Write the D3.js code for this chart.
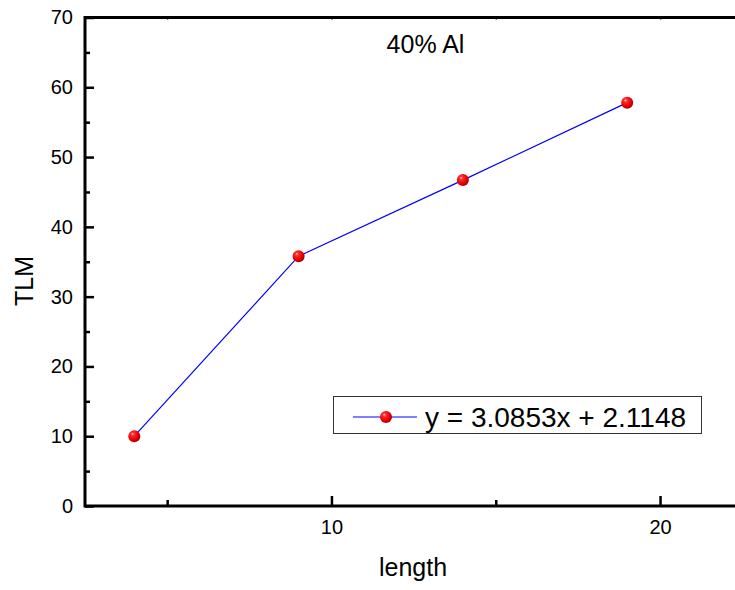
<!DOCTYPE html>
<html>
<head>
<meta charset="utf-8">
<script src="https://cdn.jsdelivr.net/npm/d3@7"></script>
<style>
  html, body { margin: 0; padding: 0; background: #fff; }
  svg { display: block; font-family: "Liberation Sans", Arial, sans-serif; }
</style>
</head>
<body>
<svg id="chart" width="735" height="590"></svg>
<script>
// TLM versus length, 40% Al series
const lengths = [4, 9, 14, 19];
const tlmValues = [10.0, 35.8, 46.7, 57.8];
const xMajorTicks = [10, 20];
const xMinorTicks = [5, 15];
const yMajorTicks = [0, 10, 20, 30, 40, 50, 60, 70];
const yMinorTicks = [5, 15, 25, 35, 45, 55, 65];
const legendLabel = "y = 3.0853x + 2.1148";
const panelTitle = "40% Al";

const svg = d3.select("#chart");
const W = 735, H = 590;
const FONT = "Liberation Sans, Arial, sans-serif";

const x = d3.scaleLinear().domain([2.5, 22.5]).range([85, 742.2]);
const y = d3.scaleLinear().domain([0, 70]).range([506, 17.5]);

// sphere-like marker fill
const defs = svg.append("defs");
const grad = defs.append("radialGradient")
  .attr("id", "ball").attr("cx", "40%").attr("cy", "38%").attr("r", "60%")
  .attr("fx", "35%").attr("fy", "30%");
grad.append("stop").attr("offset", "0%").attr("stop-color", "#ffd6d6");
grad.append("stop").attr("offset", "22%").attr("stop-color", "#ff3030");
grad.append("stop").attr("offset", "70%").attr("stop-color", "#ee0000");
grad.append("stop").attr("offset", "100%").attr("stop-color", "#b00000");

// axes frame: left, bottom, top
const axisG = svg.append("g");
axisG.append("line").attr("x1", x(2.5)).attr("x2", W).attr("y1", y(0)).attr("y2", y(0))
  .attr("stroke", "#000").attr("stroke-width", 3);
axisG.append("line").attr("x1", x(2.5)).attr("x2", W).attr("y1", y(70)).attr("y2", y(70))
  .attr("stroke", "#000").attr("stroke-width", 3);
axisG.append("line").attr("x1", x(2.5)).attr("x2", x(2.5)).attr("y1", y(70) - 1.5).attr("y2", y(0) + 1.5)
  .attr("stroke", "#000").attr("stroke-width", 3);

// bottom axis ticks (pointing inward)
const bottomAxis = d3.axisBottom(x).tickValues(xMajorTicks).tickSize(-10).tickPadding(14)
  .tickFormat(d3.format("d"));
const gB = svg.append("g").attr("transform", `translate(0,${y(0)})`).call(bottomAxis);
gB.select(".domain").remove();
gB.selectAll(".tick line").attr("stroke", "#000").attr("stroke-width", 2.5);
gB.selectAll(".tick text").attr("font-size", 20).attr("fill", "#000").attr("font-family", FONT);

const bottomMinor = d3.axisBottom(x).tickValues(xMinorTicks).tickSize(-6).tickFormat("");
const gBm = svg.append("g").attr("transform", `translate(0,${y(0)})`).call(bottomMinor);
gBm.select(".domain").remove();
gBm.selectAll(".tick line").attr("stroke", "#000").attr("stroke-width", 2.5);

// top axis: small notches only
const topAxis = d3.axisTop(x).tickValues(xMajorTicks.concat(xMinorTicks)).tickSize(-2).tickFormat("");
const gT = svg.append("g").attr("transform", `translate(0,${y(70)})`).call(topAxis);
gT.select(".domain").remove();
gT.selectAll(".tick line").attr("stroke", "#000").attr("stroke-width", 1.5);

// left axis
const leftAxis = d3.axisLeft(y).tickValues(yMajorTicks).tickSize(-9).tickPadding(12)
  .tickFormat(d3.format("d"));
const gL = svg.append("g").attr("transform", `translate(${x(2.5)},0)`).call(leftAxis);
gL.select(".domain").remove();
gL.selectAll(".tick line").attr("stroke", "#000").attr("stroke-width", 2.5);
gL.selectAll(".tick text").attr("font-size", 20).attr("fill", "#000").attr("font-family", FONT);

const leftMinor = d3.axisLeft(y).tickValues(yMinorTicks).tickSize(-5).tickFormat("");
const gLm = svg.append("g").attr("transform", `translate(${x(2.5)},0)`).call(leftMinor);
gLm.select(".domain").remove();
gLm.selectAll(".tick line").attr("stroke", "#000").attr("stroke-width", 2.5);

// axis titles
svg.append("text").attr("x", 413).attr("y", 576).attr("text-anchor", "middle")
  .attr("font-size", 25).attr("fill", "#000").text("length");
svg.append("text").attr("transform", "translate(33,281) rotate(-90)").attr("text-anchor", "middle")
  .attr("font-size", 25).attr("fill", "#000").text("TLM");

// panel label
svg.append("text").attr("x", 425.5).attr("y", 53).attr("text-anchor", "middle")
  .attr("font-size", 25).attr("fill", "#000").text(panelTitle);

// data line and markers
const pts = lengths.map((d, i) => [d, tlmValues[i]]);
svg.append("path").datum(pts)
  .attr("d", d3.line().x(d => x(d[0])).y(d => y(d[1])))
  .attr("fill", "none").attr("stroke", "#0000ff").attr("stroke-width", 1.2);
svg.append("g").selectAll("circle").data(pts).join("circle")
  .attr("cx", d => x(d[0])).attr("cy", d => y(d[1])).attr("r", 6)
  .attr("fill", "url(#ball)");

// legend
const lg = svg.append("g");
lg.append("rect").attr("x", 333.5).attr("y", 396.5).attr("width", 368).attr("height", 37)
  .attr("fill", "#fff").attr("stroke", "#333").attr("stroke-width", 1);
lg.append("line").attr("x1", 353).attr("x2", 417).attr("y1", 417).attr("y2", 417)
  .attr("stroke", "#0000ff").attr("stroke-width", 1.2);
lg.append("circle").attr("cx", 386).attr("cy", 417).attr("r", 6).attr("fill", "url(#ball)");
lg.append("text").attr("x", 425).attr("y", 427).attr("font-size", 28).attr("fill", "#000")
  .text(legendLabel);
</script>
</body>
</html>
